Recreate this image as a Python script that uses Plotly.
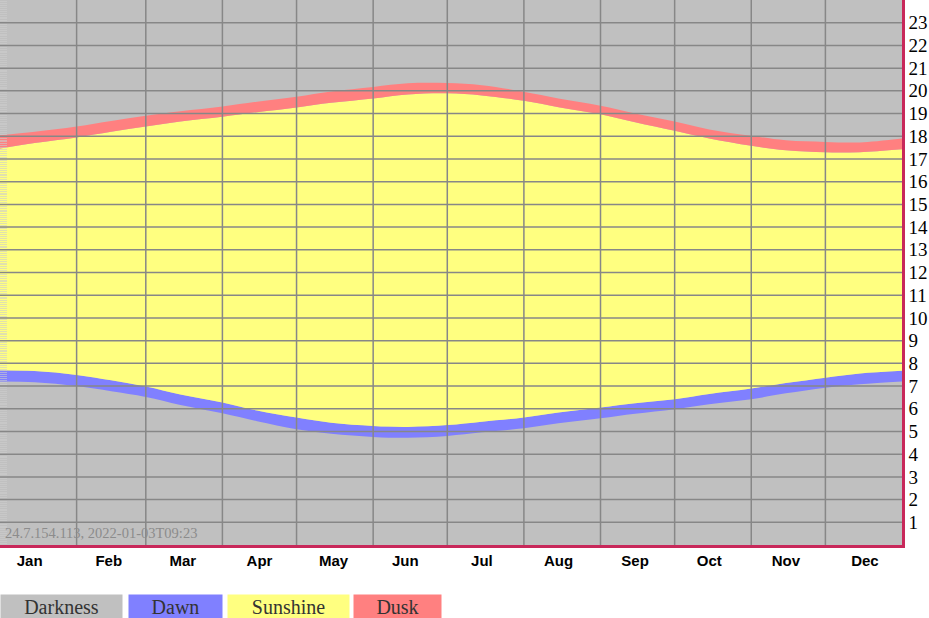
import plotly.graph_objects as go

# день года (начало и середина месяца)
days = [0, 14, 31, 45, 59, 73, 90, 104, 120, 134, 151, 165, 181,
        195, 212, 226, 243, 257, 273, 287, 304, 318, 334, 348, 365]

# часы: начало рассвета, восход, закат, конец сумерек
dawn = [7.20, 7.17, 7.00, 6.77, 6.52, 6.17, 5.80, 5.45, 5.10, 4.90, 4.76, 4.72, 4.80,
        4.96, 5.14, 5.36, 5.58, 5.78, 5.98, 6.20, 6.42, 6.68, 6.93, 7.08, 7.20]
sunrise = [7.70, 7.66, 7.49, 7.25, 6.98, 6.63, 6.27, 5.92, 5.61, 5.38, 5.24, 5.20, 5.28,
           5.43, 5.61, 5.83, 6.05, 6.24, 6.42, 6.65, 6.89, 7.13, 7.37, 7.55, 7.67]
sunset = [17.46, 17.70, 17.95, 18.20, 18.43, 18.65, 18.86, 19.06, 19.27, 19.47, 19.66, 19.84, 19.89,
          19.80, 19.56, 19.28, 18.97, 18.62, 18.24, 17.90, 17.58, 17.38, 17.29, 17.30, 17.43]
dusk = [18.04, 18.20, 18.43, 18.67, 18.90, 19.10, 19.31, 19.52, 19.74, 19.97, 20.17, 20.33, 20.34,
        20.25, 19.96, 19.66, 19.34, 19.00, 18.65, 18.30, 18.02, 17.82, 17.75, 17.73, 17.90]

month_starts = [0, 31, 59, 90, 120, 151, 181, 212, 243, 273, 304, 334, 365]
month_labels = ['Jan', 'Feb', 'Mar', 'Apr', 'May', 'Jun', 'Jul', 'Aug', 'Sep', 'Oct', 'Nov', 'Dec']
month_mid = [12, 44, 74, 105, 135, 164, 195, 226, 257, 287, 318, 350]
hours = list(range(1, 24))

legend_names = ['Darkness', 'Dawn', 'Sunshine', 'Dusk']
legend_colors = ['#c0c0c0', '#8080ff', '#ffff80', '#ff8080']

GRAY, BLUE, YELLOW, RED = legend_colors
AXIS = '#c8285a'

fig = go.Figure()
fig.add_trace(go.Scatter(x=days, y=dawn, mode='lines', line=dict(width=0, shape='spline'),
                         hoverinfo='skip'))
fig.add_trace(go.Scatter(x=days, y=sunrise, mode='lines', line=dict(width=0, shape='spline'),
                         fill='tonexty', fillcolor=BLUE, hoverinfo='skip'))
fig.add_trace(go.Scatter(x=days, y=sunset, mode='lines', line=dict(width=0, shape='spline'),
                         fill='tonexty', fillcolor=YELLOW, hoverinfo='skip'))
fig.add_trace(go.Scatter(x=days, y=dusk, mode='lines', line=dict(width=0, shape='spline'),
                         fill='tonexty', fillcolor=RED, hoverinfo='skip'))

# сетка поверх заливки
for d in month_starts[1:-1]:
    fig.add_shape(type='line', x0=d, x1=d, y0=0, y1=1, xref='x', yref='paper',
                  line=dict(color='#878787', width=1.5), layer='above')
for h in hours:
    fig.add_shape(type='line', x0=0, x1=1, y0=h, y1=h, xref='paper', yref='y',
                  line=dict(color='#878787', width=1.5), layer='above')

# легенда
lx = [0, 128, 227, 353]
lw = [121, 93, 121, 87]
for name, col, x0, w in zip(legend_names, legend_colors, lx, lw):
    fig.add_annotation(x=x0 / 902, y=-0.112, xref='paper', yref='paper',
                       xanchor='left', yanchor='middle', text=name, showarrow=False,
                       bgcolor=col, width=w, height=23, borderpad=0,
                       font=dict(family='Liberation Serif', size=20, color='#333333'))

fig.add_annotation(x=0.003, y=(545 - 533) / 545, xref='paper', yref='paper',
                   xanchor='left', yanchor='middle', showarrow=False,
                   text='24.7.154.113, 2022-01-03T09:23',
                   font=dict(family='Liberation Serif', size=14.5, color='#8c8c8c'))

fig.update_layout(
    width=929, height=618,
    margin=dict(l=0, r=27, t=0, b=73),
    paper_bgcolor='white', plot_bgcolor=GRAY,
    showlegend=False,
    xaxis=dict(range=[0, 365], tickvals=month_mid, ticktext=month_labels,
               tickfont=dict(family='Liberation Sans', size=15, color='black', weight='bold'),
               showgrid=False, zeroline=False, showline=True, linecolor=AXIS, linewidth=2.5,
               ticks='', fixedrange=True),
    yaxis=dict(range=[0, 24], side='right', tickvals=hours, ticktext=[str(h) for h in hours],
               tickfont=dict(family='Liberation Serif', size=19, color='black'),
               showgrid=False, zeroline=False, showline=True, linecolor=AXIS, linewidth=2.5,
               ticks='', layer='above traces'),
    yaxis2=dict(range=[0, 24], overlaying='y', side='left', anchor='x',
                showticklabels=False, showgrid=False, zeroline=False, showline=False,
                ticks='inside', tick0=0, dtick=1 / 12, ticklen=7, tickwidth=1,
                tickcolor='rgba(205,205,205,0.6)', layer='above traces'),
)
fig.add_trace(go.Scatter(x=[None], y=[None], yaxis='y2', hoverinfo='skip'))

fig.write_html("out.html", config={'displayModeBar': False},
               post_script="document.body.style.margin='0';")
